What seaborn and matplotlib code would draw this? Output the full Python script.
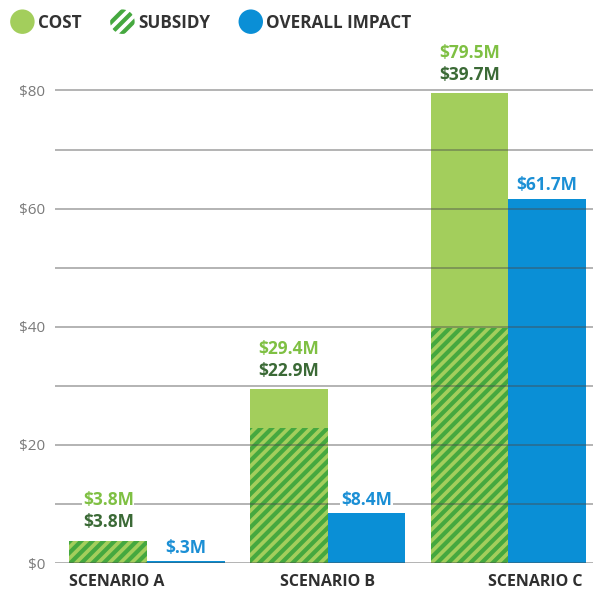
import pandas as pd
import matplotlib
matplotlib.use("Agg")
import matplotlib.pyplot as plt
import matplotlib.patches as mpatches
from matplotlib.legend_handler import HandlerPatch
import seaborn as sns

# Chart data
scenarios = ["SCENARIO A", "SCENARIO B", "SCENARIO C"]
cost = [3.8, 29.4, 79.5]
subsidy = [3.8, 22.9, 39.7]
impact = [0.3, 8.4, 61.7]
cost_labels = ["$3.8M", "$29.4M", "$79.5M"]
subsidy_labels = ["$3.8M", "$22.9M", "$39.7M"]
impact_labels = ["$.3M", "$8.4M", "$61.7M"]
y_ticks = [0, 10, 20, 30, 40, 50, 60, 70, 80]
y_tick_labels = ["$0", "", "$20", "", "$40", "", "$60", "", "$80"]

# Colours
GREEN = "#a3ce5c"
STRIPE = "#45a83f"
BLUE = "#0a8fd6"
COST_TXT = "#7fc043"
SUB_TXT = "#3b6a36"
IMPACT_TXT = "#1b8fd5"

sns.set_theme(style="white")
plt.rcParams["font.family"] = ["Open Sans", "DejaVu Sans"]
plt.rcParams["hatch.linewidth"] = 3.0

df = pd.DataFrame({
    "scenario": scenarios * 2,
    "value": cost + impact,
    "series": ["Cost"] * 3 + ["Impact"] * 3,
})

fig = plt.figure(figsize=(5.93, 6.15), dpi=100)
ax = fig.add_axes([55 / 593, 52 / 615, 538 / 593, 508 / 615])

sns.barplot(data=df, x="scenario", y="value", hue="series",
            hue_order=["Cost", "Impact"], palette=[GREEN, BLUE],
            width=0.86, saturation=1, errorbar=None, linewidth=0,
            legend=False, ax=ax, zorder=2)

# cost bars are the first three patches, impact the next three
bars = [p for p in ax.patches]
cost_bars = bars[:3]
impact_bars = bars[3:6]

# subsidy overlay: hatched part of the cost bars
xs = [b.get_x() for b in cost_bars]
ws = [b.get_width() for b in cost_bars]
ax.bar(xs, subsidy, width=ws, align="edge", color=GREEN, edgecolor=STRIPE,
       hatch="///", linewidth=0, zorder=3)

# gridlines drawn over the bars
for t in y_ticks:
    ax.axhline(t, color="#4a4a4a", alpha=0.45, linewidth=1.3, zorder=5)

# value labels
lab_kw = dict(textcoords="offset points", ha="center", va="center", fontsize=12.5,
              fontweight="bold", zorder=6, annotation_clip=False,
              bbox=dict(facecolor="white", edgecolor="none", pad=0.5))
for b, c_lab, s_lab in zip(cost_bars, cost_labels, subsidy_labels):
    cx = b.get_x() + b.get_width() / 2
    top = b.get_height()
    ax.annotate(c_lab, (cx, top), xytext=(0, 29), color=COST_TXT, **lab_kw)
    ax.annotate(s_lab, (cx, top), xytext=(0, 13.5), color=SUB_TXT, **lab_kw)
for b, lab in zip(impact_bars, impact_labels):
    cx = b.get_x() + b.get_width() / 2
    ax.annotate(lab, (cx, b.get_height()), xytext=(0, 9.5), color=IMPACT_TXT, **lab_kw)

ax.set_ylim(0, 86)
ax.set_xlim(-0.51, 2.47)
ax.set_yticks(y_ticks, y_tick_labels)
ax.set_xticks([-0.17, 1.0, 2.15], scenarios)
ax.tick_params(axis="y", length=0, pad=7, labelsize=11, labelcolor="#7a7a7a")
ax.tick_params(axis="x", length=0, pad=8, labelsize=11.5, labelcolor="#2f2f2f")
for lab in ax.get_xticklabels():
    lab.set_fontweight("bold")
ax.set_xlabel("")
ax.set_ylabel("")
sns.despine(ax=ax, left=True, bottom=True)


# legend with round markers
def make_circle(legend, orig_handle, xdescent, ydescent, width, height, fontsize):
    r = height * 0.8
    return mpatches.Circle((width / 2 - xdescent, height / 2 - ydescent), r)


handles = [
    mpatches.Patch(facecolor=GREEN, edgecolor=GREEN, linewidth=0, label="COST"),
    mpatches.Patch(facecolor="white", edgecolor=STRIPE, hatch="///", linewidth=0,
                   label="SUBSIDY"),
    mpatches.Patch(facecolor=BLUE, edgecolor=BLUE, linewidth=0, label="OVERALL IMPACT"),
]
leg = fig.legend(handles=handles, loc="upper left", bbox_to_anchor=(-0.004, 1.003),
                 ncol=3, frameon=False, handlelength=1.1, handleheight=1.0,
                 handletextpad=0.35, columnspacing=1.85, fontsize=12.3,
                 handler_map={mpatches.Patch: HandlerPatch(patch_func=make_circle)})
for t in leg.get_texts():
    t.set_fontweight("bold")
    t.set_color("#333333")

fig.savefig("out.png", dpi=100)
